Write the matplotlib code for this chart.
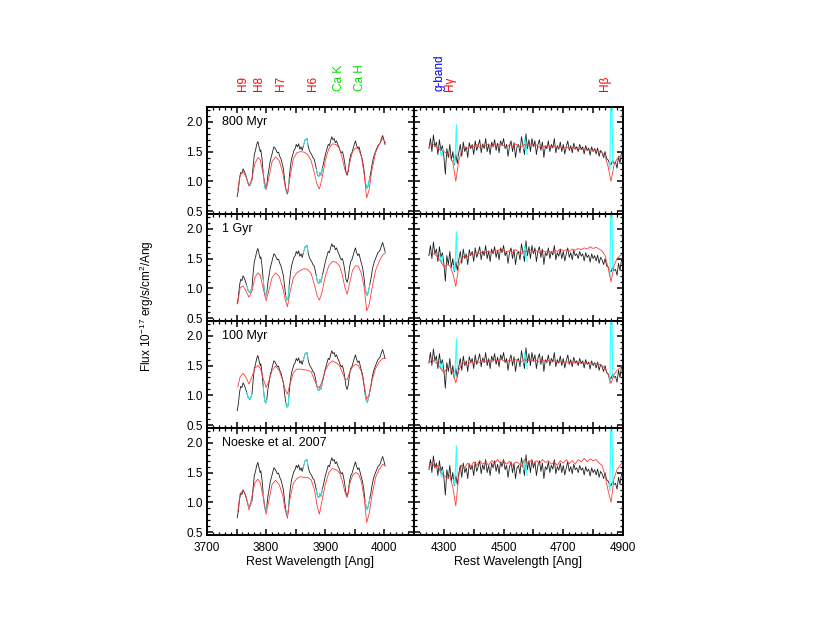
## spectra_fits.py
# Observed spectrum vs. model fits, blue (left) and red (right) windows
import numpy as np
import matplotlib
matplotlib.use('Agg')
import matplotlib.pyplot as plt
from matplotlib.ticker import MultipleLocator, FuncFormatter
from matplotlib.transforms import blended_transform_factory

plt.rcParams['font.family'] = ['Liberation Sans', 'DejaVu Sans']
plt.rcParams['mathtext.fontset'] = 'custom'
plt.rcParams['mathtext.rm'] = 'Liberation Sans'
plt.rcParams['mathtext.it'] = 'Liberation Sans:italic'

# ---------------- blue window (3700-4050 Ang) ----------------
obs_blue_wl = [3751, 3753, 3755, 3757, 3759, 3761, 3763, 3765, 3767, 3770,
               3773, 3776, 3778, 3780, 3782, 3784, 3786, 3788, 3790, 3791,
               3793, 3795, 3797, 3799, 3801, 3803, 3805, 3807, 3809, 3811,
               3813, 3815, 3817, 3819, 3821, 3823, 3825, 3827, 3829, 3831,
               3833, 3835, 3837, 3839, 3841, 3843, 3845, 3847, 3849, 3851,
               3853, 3855, 3857, 3859, 3861, 3863, 3866, 3869, 3871, 3873,
               3875, 3877, 3879, 3881, 3883, 3885, 3887, 3889, 3891, 3893,
               3895, 3897, 3899, 3901, 3903, 3905, 3907, 3909, 3911, 3913,
               3915, 3917, 3919, 3921, 3923, 3925, 3927, 3929, 3931, 3933,
               3935, 3937, 3939, 3941, 3943, 3945, 3947, 3949, 3951, 3953,
               3955, 3957, 3959, 3961, 3963, 3965, 3967, 3969, 3971, 3973,
               3975, 3977, 3979, 3981, 3983, 3985, 3987, 3989, 3991, 3993,
               3995, 3997, 3999, 4001]
obs_blue_flux = [0.74, 0.85, 1.05, 1.15, 1.13, 1.21, 1.17, 1.12, 1.05, 0.95,
                 0.93, 1.02, 1.25, 1.45, 1.52, 1.62, 1.67, 1.58, 1.50, 1.53,
                 1.38, 1.15, 0.95, 0.86, 0.92, 1.10, 1.22, 1.35, 1.42, 1.50,
                 1.58, 1.56, 1.52, 1.48, 1.49, 1.42, 1.38, 1.30, 1.22, 1.05,
                 0.88, 0.80, 0.82, 1.05, 1.25, 1.38, 1.45, 1.52, 1.55, 1.62,
                 1.58, 1.63, 1.54, 1.58, 1.52, 1.60, 1.70, 1.72, 1.60, 1.52,
                 1.48, 1.45, 1.40, 1.38, 1.30, 1.20, 1.10, 1.08, 1.15, 1.10,
                 1.22, 1.30, 1.40, 1.48, 1.55, 1.62, 1.60, 1.68, 1.75, 1.70,
                 1.72, 1.65, 1.68, 1.62, 1.58, 1.52, 1.48, 1.50, 1.42, 1.30,
                 1.15, 1.10, 1.18, 1.35, 1.45, 1.48, 1.55, 1.62, 1.68, 1.60,
                 1.55, 1.58, 1.50, 1.42, 1.35, 1.22, 1.05, 0.92, 0.88, 0.95,
                 1.05, 1.15, 1.28, 1.38, 1.45, 1.50, 1.55, 1.60, 1.62, 1.65,
                 1.72, 1.77, 1.70, 1.62]

# masked (emission) regions drawn in cyan
mask_blue = [(3766, 3776), (3795, 3801), (3832, 3839), (3862, 3871),
             (3884, 3895), (3966, 3976)]

model_blue_wl = [3752, 3756, 3761, 3766, 3771, 3776, 3781, 3786, 3790, 3795,
                 3800, 3805, 3810, 3816, 3822, 3828, 3832, 3836, 3840, 3846,
                 3852, 3858, 3864, 3870, 3876, 3882, 3886, 3890, 3894, 3900,
                 3906, 3912, 3918, 3924, 3929, 3933, 3937, 3941, 3946, 3951,
                 3956, 3961, 3966, 3970, 3974, 3979, 3985, 3991, 3997, 4002]
model_800myr_blue = [0.85, 1.10, 1.17, 1.08, 0.92, 1.05, 1.30, 1.40, 1.36, 1.12,
                     0.87, 1.08, 1.33, 1.41, 1.35, 1.15, 0.92, 0.78, 1.05, 1.38,
                     1.48, 1.50, 1.49, 1.45, 1.35, 1.12, 0.95, 0.87, 1.02, 1.35,
                     1.55, 1.63, 1.62, 1.55, 1.38, 1.20, 1.12, 1.30, 1.50, 1.56,
                     1.55, 1.42, 1.10, 0.72, 0.85, 1.20, 1.48, 1.62, 1.72, 1.65]
model_1gyr_blue = [0.75, 1.01, 1.04, 0.95, 0.85, 0.95, 1.18, 1.26, 1.22, 1.00,
                   0.79, 0.98, 1.18, 1.26, 1.20, 1.02, 0.82, 0.69, 0.92, 1.18,
                   1.26, 1.30, 1.33, 1.32, 1.25, 1.05, 0.88, 0.80, 0.92, 1.20,
                   1.38, 1.45, 1.44, 1.38, 1.22, 1.02, 0.90, 1.08, 1.30, 1.38,
                   1.37, 1.25, 1.00, 0.62, 0.72, 1.00, 1.30, 1.45, 1.56, 1.60]
model_100myr_blue = [1.14, 1.31, 1.37, 1.30, 1.19, 1.31, 1.46, 1.50, 1.46, 1.28,
                     1.13, 1.25, 1.42, 1.49, 1.42, 1.25, 1.10, 1.02, 1.18, 1.38,
                     1.44, 1.44, 1.43, 1.42, 1.40, 1.25, 1.15, 1.13, 1.22, 1.42,
                     1.53, 1.58, 1.55, 1.50, 1.38, 1.28, 1.26, 1.38, 1.48, 1.52,
                     1.50, 1.40, 1.15, 0.94, 1.00, 1.25, 1.45, 1.56, 1.62, 1.62]
model_noeske_blue = [0.84, 1.15, 1.20, 1.10, 0.87, 1.10, 1.33, 1.39, 1.33, 1.08,
                     0.80, 1.05, 1.30, 1.37, 1.30, 1.12, 0.88, 0.73, 1.05, 1.32,
                     1.40, 1.43, 1.42, 1.42, 1.38, 1.20, 0.95, 0.80, 1.00, 1.30,
                     1.50, 1.57, 1.55, 1.50, 1.35, 1.18, 1.08, 1.30, 1.45, 1.50,
                     1.48, 1.35, 1.05, 0.66, 0.80, 1.12, 1.42, 1.55, 1.64, 1.61]

# ---------------- red window (4200-4900 Ang) ----------------
obs_red_wl = np.arange(4250, 4905, 5)
obs_red_flux = [1.55, 1.72, 1.50, 1.78, 1.58, 1.66, 1.45, 1.70, 1.52, 1.60,
                1.42, 1.12, 1.55, 1.40, 1.62, 1.35, 1.50, 1.28, 1.45, 1.30,
                1.48, 1.62, 1.42, 1.66, 1.50, 1.58, 1.40, 1.65, 1.55, 1.62,
                1.45, 1.68, 1.52, 1.60, 1.70, 1.48, 1.63, 1.55, 1.72, 1.50,
                1.62, 1.45, 1.66, 1.58, 1.70, 1.52, 1.64, 1.48, 1.68, 1.60,
                1.72, 1.55, 1.62, 1.42, 1.60, 1.68, 1.50, 1.65, 1.40, 1.58,
                1.62, 1.48, 1.75, 1.60, 1.45, 1.80, 1.55, 1.70, 1.50, 1.72,
                1.58, 1.68, 1.45, 1.62, 1.70, 1.52, 1.66, 1.40, 1.60, 1.55,
                1.68, 1.50, 1.62, 1.56, 1.72, 1.48, 1.60, 1.54, 1.66, 1.50,
                1.62, 1.46, 1.58, 1.68, 1.52, 1.60, 1.48, 1.64, 1.55, 1.58,
                1.50, 1.62, 1.54, 1.58, 1.46, 1.60, 1.52, 1.56, 1.44, 1.58,
                1.50, 1.55, 1.46, 1.56, 1.42, 1.52, 1.48, 1.40, 1.50, 1.38,
                1.36, 1.30, 1.28, 1.35, 1.30, 1.32, 1.22, 1.42, 1.30, 1.48,
                1.45]

# cyan (masked) pieces of the red window
gband_cyan_wl = [4285, 4289, 4293, 4297]
gband_cyan_flux = [1.58, 1.48, 1.42, 1.55]
hgamma_cyan_wl = [4333, 4336, 4339, 4342, 4345, 4348]
hgamma_cyan_flux = [1.38, 1.30, 1.55, 1.95, 1.45, 1.40]
hei_cyan_wl = [4567, 4571, 4575, 4579]
hei_cyan_flux = [1.55, 1.72, 1.62, 1.45]
hbeta_cyan_wl = [4853, 4856, 4859, 4861, 4863, 4866]
hbeta_cyan_flux = [1.30, 1.20, 2.40, 3.50, 2.20, 1.30]

model_red_wl = np.arange(4250, 4910, 10)
model_800myr_red = [1.58, 1.64, 1.60, 1.56, 1.52, 1.50, 1.47, 1.44, 1.32, 1.00,
                    1.35, 1.52, 1.58, 1.55, 1.60, 1.58, 1.62, 1.57, 1.61, 1.60,
                    1.63, 1.58, 1.62, 1.60, 1.64, 1.60, 1.57, 1.62, 1.59, 1.63,
                    1.60, 1.58, 1.62, 1.60, 1.63, 1.59, 1.61, 1.57, 1.60, 1.58,
                    1.61, 1.57, 1.59, 1.56, 1.58, 1.55, 1.58, 1.55, 1.57, 1.54,
                    1.56, 1.53, 1.55, 1.52, 1.54, 1.52, 1.53, 1.50, 1.48, 1.42,
                    1.25, 1.00, 1.28, 1.38, 1.42, 1.48]
model_1gyr_red = [1.58, 1.60, 1.57, 1.52, 1.45, 1.36, 1.40, 1.38, 1.25, 1.03,
                  1.38, 1.50, 1.55, 1.53, 1.58, 1.57, 1.61, 1.58, 1.62, 1.60,
                  1.63, 1.60, 1.64, 1.62, 1.67, 1.63, 1.60, 1.64, 1.60, 1.65,
                  1.62, 1.58, 1.63, 1.61, 1.65, 1.60, 1.63, 1.60, 1.64, 1.61,
                  1.63, 1.60, 1.64, 1.62, 1.66, 1.63, 1.65, 1.62, 1.66, 1.64,
                  1.67, 1.65, 1.68, 1.66, 1.70, 1.67, 1.69, 1.66, 1.63, 1.55,
                  1.35, 1.11, 1.38, 1.50, 1.55, 1.58]
model_100myr_red = [1.54, 1.60, 1.56, 1.52, 1.45, 1.38, 1.45, 1.48, 1.38, 1.21,
                    1.42, 1.52, 1.55, 1.50, 1.56, 1.54, 1.58, 1.55, 1.59, 1.57,
                    1.60, 1.56, 1.60, 1.58, 1.61, 1.58, 1.55, 1.60, 1.57, 1.60,
                    1.58, 1.56, 1.60, 1.58, 1.61, 1.57, 1.59, 1.56, 1.59, 1.57,
                    1.59, 1.56, 1.58, 1.55, 1.57, 1.55, 1.57, 1.54, 1.56, 1.54,
                    1.56, 1.53, 1.55, 1.53, 1.55, 1.53, 1.54, 1.52, 1.50, 1.45,
                    1.35, 1.20, 1.35, 1.42, 1.46, 1.50]
model_noeske_red = [1.60, 1.68, 1.58, 1.62, 1.50, 1.46, 1.40, 1.45, 1.25, 0.94,
                    1.45, 1.63, 1.58, 1.66, 1.60, 1.68, 1.62, 1.70, 1.64, 1.68,
                    1.62, 1.70, 1.66, 1.72, 1.65, 1.70, 1.64, 1.69, 1.62, 1.68,
                    1.66, 1.60, 1.72, 1.66, 1.70, 1.64, 1.70, 1.65, 1.72, 1.67,
                    1.70, 1.64, 1.68, 1.62, 1.70, 1.66, 1.72, 1.65, 1.70, 1.64,
                    1.72, 1.68, 1.74, 1.68, 1.73, 1.70, 1.72, 1.66, 1.62, 1.45,
                    1.20, 1.00, 1.40, 1.55, 1.62, 1.68]

row_labels = ['800 Myr', '1 Gyr', '100 Myr', 'Noeske et al. 2007']
models_blue = [model_800myr_blue, model_1gyr_blue, model_100myr_blue, model_noeske_blue]
models_red = [model_800myr_red, model_1gyr_red, model_100myr_red, model_noeske_red]

# line identifications on top
lines_blue_wl = [3771, 3798, 3835, 3889, 3934, 3969]
lines_blue_name = ['H9', 'H8', 'H7', 'H6', 'Ca K', 'Ca H']
lines_blue_color = ['#ff0000', '#ff0000', '#ff0000', '#ff0000', '#00e000', '#00e000']
lines_red_wl = [4305, 4341, 4861]
lines_red_name = ['g-band', 'H\u03b3', 'H\u03b2']
lines_red_color = ['#0000ff', '#ff0000', '#ff0000']

BLACK = '#1e1e1e'
RED = '#ff3c3c'
CYAN = '#33ffff'


def style_axis(ax, xmajor, xminor, label_every, show_xlabels, show_ylabels):
    ax.set_ylim(0.45, 2.25)
    ax.xaxis.set_major_locator(MultipleLocator(xmajor))
    ax.xaxis.set_minor_locator(MultipleLocator(xminor))
    ax.yaxis.set_major_locator(MultipleLocator(0.5))
    ax.yaxis.set_minor_locator(MultipleLocator(0.1))
    if show_xlabels:
        ax.xaxis.set_major_formatter(FuncFormatter(label_every))
    else:
        ax.set_xticklabels([])
    if show_ylabels:
        ax.yaxis.set_major_formatter(FuncFormatter(lambda v, p: '{:.1f}'.format(v)))
    else:
        ax.set_yticklabels([])
    ax.tick_params(which='both', direction='in', top=True, right=True,
                   labelsize=8.5)
    ax.tick_params(axis='x', pad=5)
    ax.tick_params(axis='y', pad=3)
    ax.tick_params(which='major', length=4, width=1.1)
    ax.tick_params(which='minor', length=2, width=0.9)
    for s in ax.spines.values():
        s.set_linewidth(1.4)


def blue_label(v, p):
    return '{:.0f}'.format(v) if abs(v % 100) < 1e-6 else ''


def red_label(v, p):
    return '{:.0f}'.format(v) if abs((v - 4300) % 200) < 1e-6 else ''


fig = plt.figure(figsize=(8.3, 6.42), dpi=100)
W, H = 830.0, 642.0

blue_wl = np.array(obs_blue_wl)
blue_flux = np.array(obs_blue_flux)
blue_mask = np.zeros(len(blue_wl), dtype=bool)
for lo, hi in mask_blue:
    blue_mask |= (blue_wl >= lo) & (blue_wl <= hi)
blue_cyan = np.where(blue_mask, blue_flux, np.nan)

for i in range(4):
    top = 107 + 107 * i
    bottom = 1 - (top + 107) / H

    # Blue window
    ax1 = fig.add_axes([207 / W, bottom, 207 / W, 107 / H])
    ax1.plot(blue_wl, blue_flux, color=BLACK, lw=0.6)
    ax1.plot(blue_wl, blue_cyan, color=CYAN, lw=0.6)
    ax1.plot(model_blue_wl, models_blue[i], color=RED, lw=0.6)
    ax1.set_xlim(3700, 4050)
    style_axis(ax1, 50, 10, blue_label, i == 3, True)
    ax1.text(0.072, 0.86, row_labels[i], transform=ax1.transAxes,
             fontsize=9, va='center', ha='left')

    # Red window
    ax2 = fig.add_axes([414 / W, bottom, 209 / W, 107 / H])
    ax2.plot(obs_red_wl, obs_red_flux, color=BLACK, lw=0.6)
    for cw, cf in [(gband_cyan_wl, gband_cyan_flux), (hgamma_cyan_wl, hgamma_cyan_flux),
                   (hei_cyan_wl, hei_cyan_flux), (hbeta_cyan_wl, hbeta_cyan_flux)]:
        ax2.plot(cw, cf, color=CYAN, lw=0.8)
    ax2.plot(model_red_wl, models_red[i], color=RED, lw=0.6)
    ax2.set_xlim(4200, 4900)
    style_axis(ax2, 100, 20, red_label, i == 3, False)

    if i == 0:
        tr1 = blended_transform_factory(ax1.transData, ax1.transAxes)
        for wl, name, c in zip(lines_blue_wl, lines_blue_name, lines_blue_color):
            ax1.text(wl, 1.15, name, transform=tr1, rotation=90, color=c,
                     fontsize=8.5, ha='right', va='bottom')
        tr2 = blended_transform_factory(ax2.transData, ax2.transAxes)
        for wl, name, c in zip(lines_red_wl, lines_red_name, lines_red_color):
            ax2.text(wl, 1.15, name, transform=tr2, rotation=90, color=c,
                     fontsize=8.5, ha='right', va='bottom')

# Axis titles
fig.text(310 / W, 1 - 562 / H, 'Rest Wavelength [Ang]', ha='center', va='center', fontsize=9)
fig.text(518 / W, 1 - 562 / H, 'Rest Wavelength [Ang]', ha='center', va='center', fontsize=9)
fig.text(147 / W, 1 - 306 / H, 'Flux 10$^{-17}$ erg/s/cm$^2$/Ang', rotation=90,
         ha='center', va='center', fontsize=8.5)

fig.savefig('out.png', dpi=100)
plt.close()
